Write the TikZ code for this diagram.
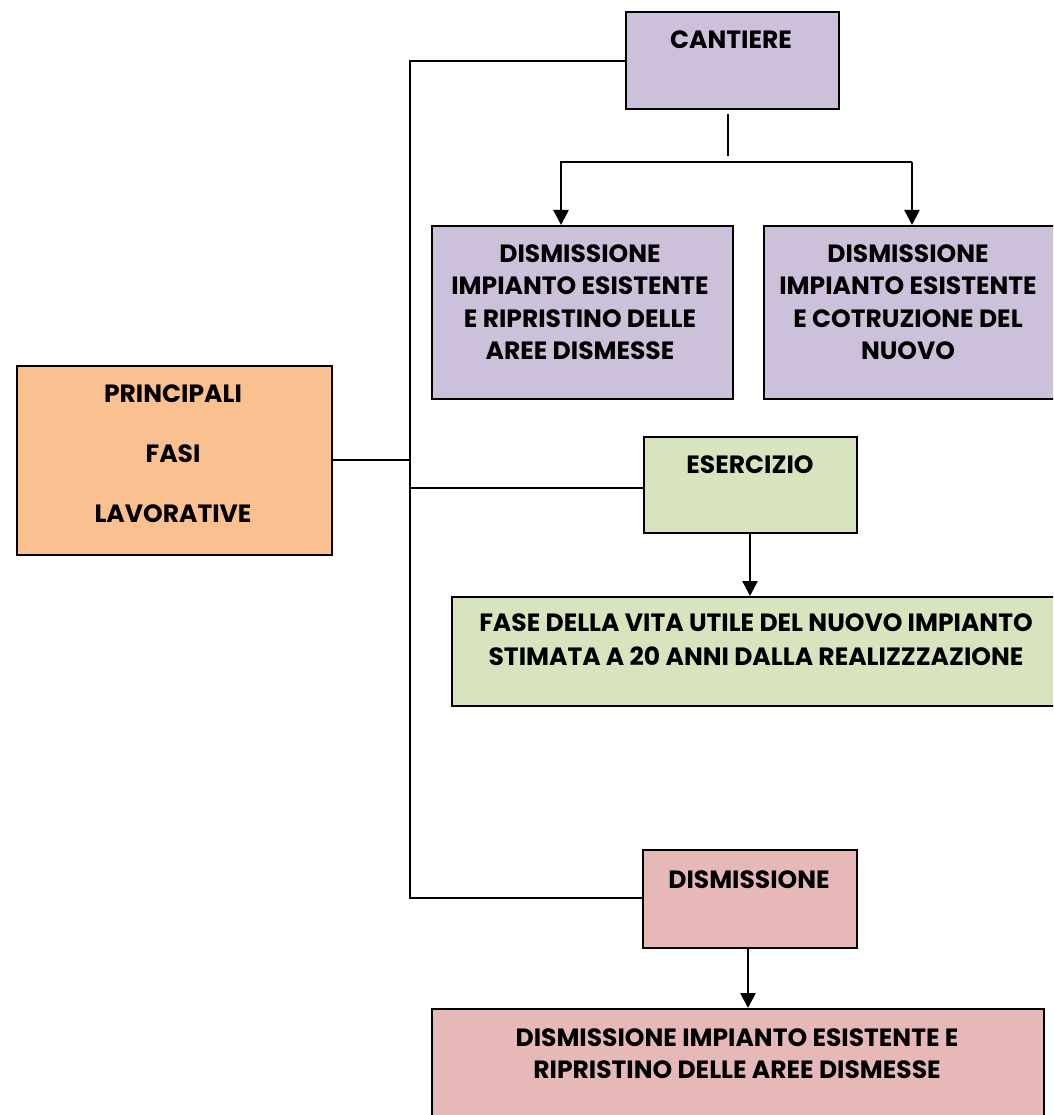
\documentclass[tikz,border=0pt]{standalone}
\usepackage{fontspec}
\setmainfont{Poppins}
\usetikzlibrary{arrows.meta}
\definecolor{lav}{HTML}{CCC0DA}
\definecolor{ora}{HTML}{FAC090}
\definecolor{gre}{HTML}{D7E4BD}
\definecolor{pin}{HTML}{E6B9B8}
\tikzset{
  box/.style={draw=black, line width=2pt, anchor=north west, inner sep=0pt},
  txt/.style={anchor=north, inner sep=0pt, align=center, font=\bfseries\fontsize{25}{32.5}\selectfont},
  conn/.style={line width=2.5pt},
  arr/.style={line width=2.5pt, -{Triangle[width=15pt,length=15pt]}}
}
\begin{document}
\begin{tikzpicture}[x=1pt,y=-1pt]
\useasboundingbox (0,0) rectangle (1053,1115);
\clip (0,0) rectangle (1053,1115);
% boxes
\node[box, fill=ora, minimum width=315pt, minimum height=189pt] (main) at (16,365) {};
\node[box, fill=lav, minimum width=213pt, minimum height=97pt] (cant) at (625,11) {};
\node[box, fill=lav, minimum width=301pt, minimum height=173pt] (d1) at (431,225) {};
\node[box, fill=lav, minimum width=320pt, minimum height=173pt] (d2) at (763,225) {};
\node[box, fill=gre, minimum width=213pt, minimum height=96pt] (eser) at (643,436) {};
\node[box, fill=gre, minimum width=640pt, minimum height=109pt] (fase) at (451,596) {};
\node[box, fill=pin, minimum width=214pt, minimum height=98pt] (dism) at (642,849) {};
\node[box, fill=pin, minimum width=612pt, minimum height=140pt] (dfin) at (431,1008) {};
% texts
\node[txt, font=\bfseries\fontsize{25}{60}\selectfont] (tmain) at (173,385) {PRINCIPALI\\FASI\\LAVORATIVE};
\node[txt] (tcant) at (731,31) {CANTIERE};
\node[txt] (td1) at (580,244) {DISMISSIONE\\IMPIANTO ESISTENTE\\E RIPRISTINO DELLE\\AREE DISMESSE};
\node[txt] (td2) at (908,244) {DISMISSIONE\\IMPIANTO ESISTENTE\\E COTRUZIONE DEL\\NUOVO};
\node[txt] (teser) at (750,455) {ESERCIZIO};
\node[txt, font=\bfseries\fontsize{25}{34}\selectfont] (tfase) at (756,613) {FASE DELLA VITA UTILE DEL NUOVO IMPIANTO\\STIMATA A 20 ANNI DALLA REALIZZZAZIONE};
\node[txt] (tdism) at (749,870) {DISMISSIONE};
\node[txt] (tdfin) at (737,1028) {DISMISSIONE IMPIANTO ESISTENTE E\\RIPRISTINO DELLE AREE DISMESSE};
% connector coordinates
\coordinate (trunkTop) at (410,61);
\coordinate (trunkBot) at (410,898);
\coordinate (trunkMain) at (410,460);
\coordinate (trunkEser) at (410,488);
\coordinate (cstubA) at (728,114);
\coordinate (cstubB) at (728,156);
\coordinate (splitL) at (561,162);
\coordinate (splitR) at (912,162);
% connectors
\draw[conn] (cant.west |- trunkTop) -- (trunkTop) -- (trunkBot) -- (dism.west |- trunkBot);
\draw[conn] (main.east |- trunkMain) -- (trunkMain);
\draw[conn] (trunkEser) -- (eser.west |- trunkEser);
\draw[conn] (cstubA) -- (cstubB);
\draw[arr] (splitR) -- (splitL) -- (d1.north -| splitL);
\draw[arr] (splitR) -- (d2.north -| splitR);
\draw[arr] (eser.south -| 750,0) -- (fase.north -| 750,0);
\draw[arr] (dism.south -| 748,0) -- (dfin.north -| 748,0);
\end{tikzpicture}
\end{document}
